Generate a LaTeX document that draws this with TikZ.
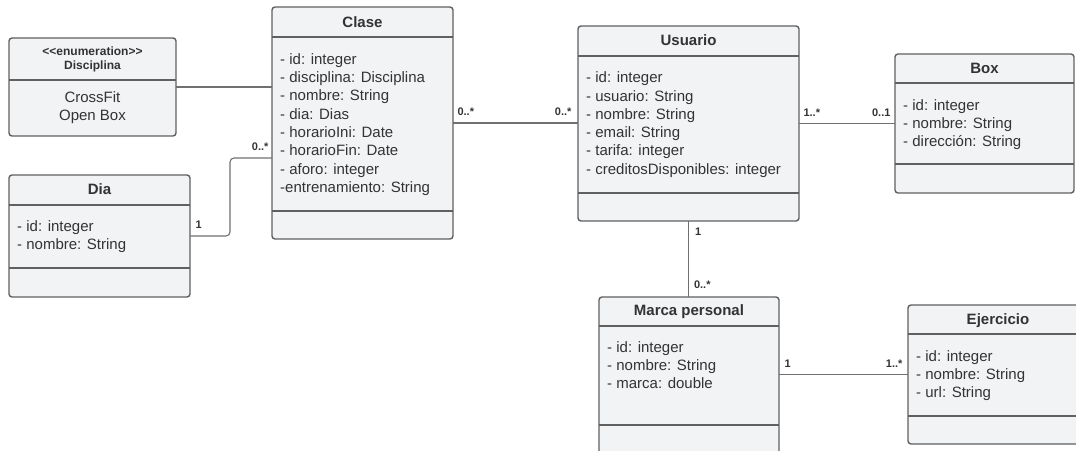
\documentclass[tikz,border=0pt]{standalone}
\usepackage{fontspec}
\setmainfont{Liberation Sans}
\usepackage{tikz}
\usetikzlibrary{positioning,calc}

\definecolor{boxfill}{RGB}{242,243,245}
\definecolor{boxline}{RGB}{96,96,96}
\definecolor{linkgray}{RGB}{112,112,112}
\definecolor{txtgray}{RGB}{51,51,51}

\begin{document}
\begin{tikzpicture}[x=1pt, y=-1pt,
  umlclass/.style={draw=boxline, fill=boxfill, line width=1.4pt, rounded corners=3pt, inner sep=0pt, outer sep=0pt},
  sepline/.style={draw=boxline, line width=1.4pt},
  classname/.style={font=\bfseries\fontsize{15}{18}\selectfont, text=txtgray, inner sep=0pt, anchor=base},
  enumtag/.style={font=\bfseries\fontsize{12}{14.5}\selectfont, text=txtgray, inner sep=0pt, anchor=base},
  attrs/.style={font=\fontsize{15}{18.3}\selectfont, text=txtgray, align=left, inner sep=0pt, anchor=north west},
  mult/.style={font=\bfseries\fontsize{11}{12}\selectfont, text=txtgray, inner sep=0pt},
  assoc/.style={draw=linkgray, line width=1.1pt}]
\useasboundingbox (0,0) rectangle (1076,450);
\clip (0,0) rectangle (1076,450);

%Class boxes
\node[umlclass, minimum width=167pt, minimum height=98pt] (disc) at (92.5,87) {};
\node[umlclass, minimum width=181pt, minimum height=232pt] (clase) at (362.5,123) {};
\node[umlclass, minimum width=181pt, minimum height=122pt] (dia) at (99.5,236) {};
\node[umlclass, minimum width=221pt, minimum height=195pt] (usuario) at (688.5,123.5) {};
\node[umlclass, minimum width=179pt, minimum height=139pt] (box) at (984.5,123.5) {};
\node[umlclass, minimum width=180pt, minimum height=180pt] (marca) at (689,387) {};
\node[umlclass, minimum width=180pt, minimum height=139pt] (ejercicio) at (998,374.5) {};

%Compartments
\draw[sepline] (disc.west |- 0,80) -- (disc.east |- 0,80);
\draw[sepline] (clase.west |- 0,37) -- (clase.east |- 0,37);
\draw[sepline] (clase.west |- 0,211) -- (clase.east |- 0,211);
\draw[sepline] (dia.west |- 0,205) -- (dia.east |- 0,205);
\draw[sepline] (dia.west |- 0,268) -- (dia.east |- 0,268);
\draw[sepline] (usuario.west |- 0,56) -- (usuario.east |- 0,56);
\draw[sepline] (usuario.west |- 0,193) -- (usuario.east |- 0,193);
\draw[sepline] (box.west |- 0,83) -- (box.east |- 0,83);
\draw[sepline] (box.west |- 0,164) -- (box.east |- 0,164);
\draw[sepline] (marca.west |- 0,326) -- (marca.east |- 0,326);
\draw[sepline] (marca.west |- 0,425) -- (marca.east |- 0,425);
\draw[sepline] (ejercicio.west |- 0,334) -- (ejercicio.east |- 0,334);
\draw[sepline] (ejercicio.west |- 0,416) -- (ejercicio.east |- 0,416);

%Names
\node[enumtag] (disc-tag) at (92.5,55) {<\kern0pt<enumeration>\kern0pt>};
\node[enumtag] (disc-name) at (92.5,69.5) {Disciplina};
\node[classname] (clase-name) at (362.5,27) {Clase};
\node[classname] (dia-name) at (99.5,194.7) {Dia};
\node[classname] (usuario-name) at (688.5,45.4) {Usuario};
\node[classname] (box-name) at (984.5,73) {Box};
\node[classname] (marca-name) at (689,315) {Marca personal};
\node[classname] (ejercicio-name) at (998,324) {Ejercicio};

%Attributes
\node[attrs, align=center, anchor=north] (disc-vals) at (92.5,91.2) {CrossFit\\Open Box};
\node[attrs] (clase-attrs) at (280,53.2) {- id: integer\\- disciplina: Disciplina\\- nombre: String\\- dia: Dias\\- horarioIni: Date\\- horarioFin: Date\\- aforo: integer\\-entrenamiento: String};
\node[attrs] (dia-attrs) at (17,220.2) {- id: integer\\- nombre: String};
\node[attrs] (usuario-attrs) at (586,71.7) {- id: integer\\- usuario: String\\- nombre: String\\- email: String\\- tarifa: integer\\- creditosDisponibles: integer};
\node[attrs] (box-attrs) at (903,99.2) {- id: integer\\- nombre: String\\- dirección: String};
\node[attrs] (marca-attrs) at (607,341.2) {- id: integer\\- nombre: String\\- marca: double};
\node[attrs] (ejercicio-attrs) at (916,350.2) {- id: integer\\- nombre: String\\- url: String};

%Associations
\draw[assoc] (disc.east) -- (clase.west |- disc.east);
\draw[assoc, rounded corners=4pt] (dia.east)
  node[mult, anchor=base west, xshift=5pt, yshift=7.5pt] (dia-m) {1}
  -- ++(40,0) |- (clase.west |- 0,158)
  node[mult, anchor=base east, xshift=-3pt, yshift=7.5pt] (clase-m1) {0..*};
\draw[assoc] (clase.east) -- (clase.east -| usuario.west)
  node[mult, pos=0, anchor=base west, xshift=4pt, yshift=7.5pt] (clase-m2) {0..*}
  node[mult, pos=1, anchor=base east, xshift=-6pt, yshift=7.5pt] (usuario-m1) {0..*};
\draw[assoc] (usuario.east) -- (usuario.east -| box.west)
  node[mult, pos=0, anchor=base west, xshift=4pt, yshift=7.5pt] (usuario-m2) {1..*}
  node[mult, pos=1, anchor=base east, xshift=-4pt, yshift=7.5pt] (box-m) {0..1};
\draw[assoc] (usuario.south) -- (usuario.south |- marca.north)
  node[mult, pos=0, anchor=north west, xshift=6pt, yshift=-6pt] (usuario-m3) {1}
  node[mult, pos=1, anchor=base west, xshift=5pt, yshift=9pt] (marca-m1) {0..*};
\draw[assoc] (marca.east |- ejercicio.west) -- (ejercicio.west)
  node[mult, pos=0, anchor=base west, xshift=5pt, yshift=7.5pt] (marca-m2) {1}
  node[mult, pos=1, anchor=base east, xshift=-5pt, yshift=7.5pt] (ejercicio-m) {1..*};

\end{tikzpicture}
\end{document}
